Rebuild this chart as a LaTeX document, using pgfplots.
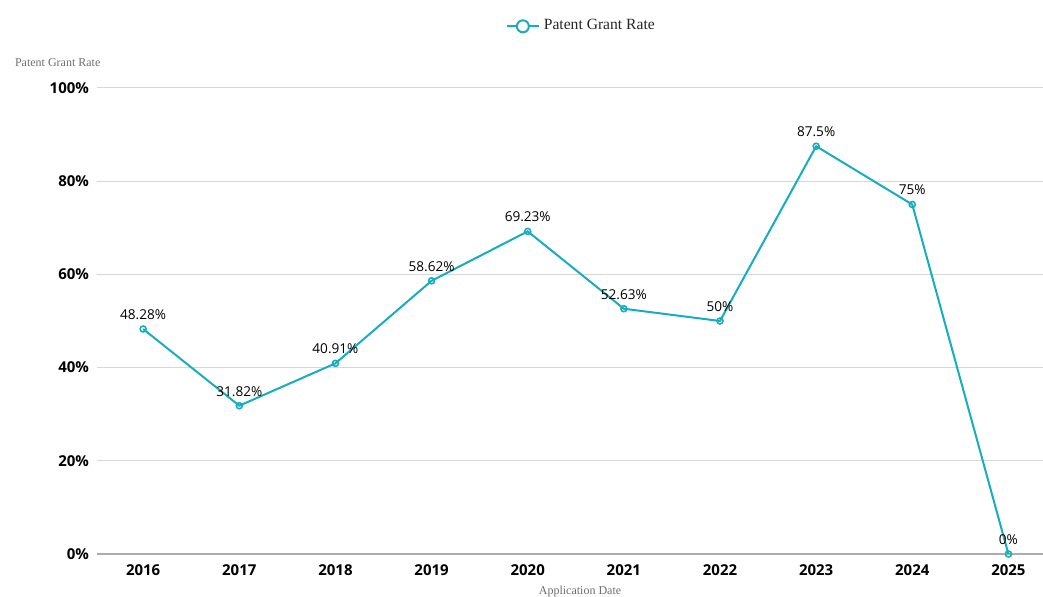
\documentclass[border=0pt]{standalone}
\usepackage{fontspec}
\setmainfont{Liberation Serif}
\newfontfamily\tickfont{Open Sans}
\usepackage{pgfplots}
\pgfplotsset{compat=1.18}
\definecolor{teal1}{RGB}{22,174,190}
\definecolor{gridc}{RGB}{215,215,215}
\definecolor{titlec}{RGB}{110,110,110}
\begin{document}
\begin{tikzpicture}
\path[use as bounding box] (0,0) rectangle (521.5pt,298.5pt);
\begin{axis}[
  at={(48.5pt,21.5pt)}, anchor=south west,
  scale only axis,
  width=473pt, height=233pt,
  xmin=-0.48, xmax=9.36,
  ymin=0, ymax=100,
  xtick={0,...,9},
  xticklabels={2016,2017,2018,2019,2020,2021,2022,2023,2024,2025},
  ytick={0,20,40,60,80,100},
  yticklabel={\pgfmathprintnumber{\tick}\%},
  /pgf/number format/assume math mode=true,
  ticklabel style={font=\tickfont\bfseries\fontsize{7.5pt}{8pt}\selectfont, text=black},
  xticklabel style={yshift=-2pt},
  yticklabel style={xshift=-0.5pt},
  major tick length=0pt,
  axis x line*=bottom,
  axis y line*=left,
  y axis line style={draw=none},
  x axis line style={draw=gridc!80!black, line width=0.7pt, -},
  ymajorgrids,
  grid style={gridc, line width=0.5pt},
  clip=false,
  legend style={at={(0.513,1.1)}, anchor=south, draw=none, fill=none,
    font=\fontsize{7.8pt}{8pt}\selectfont, text=black!85},
  legend cell align=left,
  legend image code/.code={
    \draw[teal1, line width=1pt] (0pt,0pt) -- (16pt,0pt);
    \draw[teal1, fill=white, line width=1pt] (8pt,0pt) circle (3pt);
  },
  nodes near coords={\pgfmathprintnumber[fixed,precision=2]{\pgfplotspointmeta}\%},
  nodes near coords style={font=\tickfont\fontsize{6.8pt}{7pt}\selectfont, text=black, yshift=1pt},
  point meta=explicit,
]
\addplot[color=teal1, line width=1pt, mark=o, mark size=1.5pt,
  mark options={fill=white, line width=0.8pt}]
  coordinates {
  (0,48.28) [48.28]
  (1,31.82) [31.82]
  (2,40.91) [40.91]
  (3,58.62) [58.62]
  (4,69.23) [69.23]
  (5,52.63) [52.63]
  (6,50) [50]
  (7,87.5) [87.5]
  (8,75) [75]
  (9,0) [0]
};
\addlegendentry{Patent Grant Rate}
\end{axis}
\node[anchor=west, text=titlec, font=\fontsize{6pt}{7pt}\selectfont] at (4pt,267pt) {Patent Grant Rate};
\node[text=titlec, font=\fontsize{6pt}{7pt}\selectfont] at (290pt,2.5pt) {Application Date};
\end{tikzpicture}
\end{document}
